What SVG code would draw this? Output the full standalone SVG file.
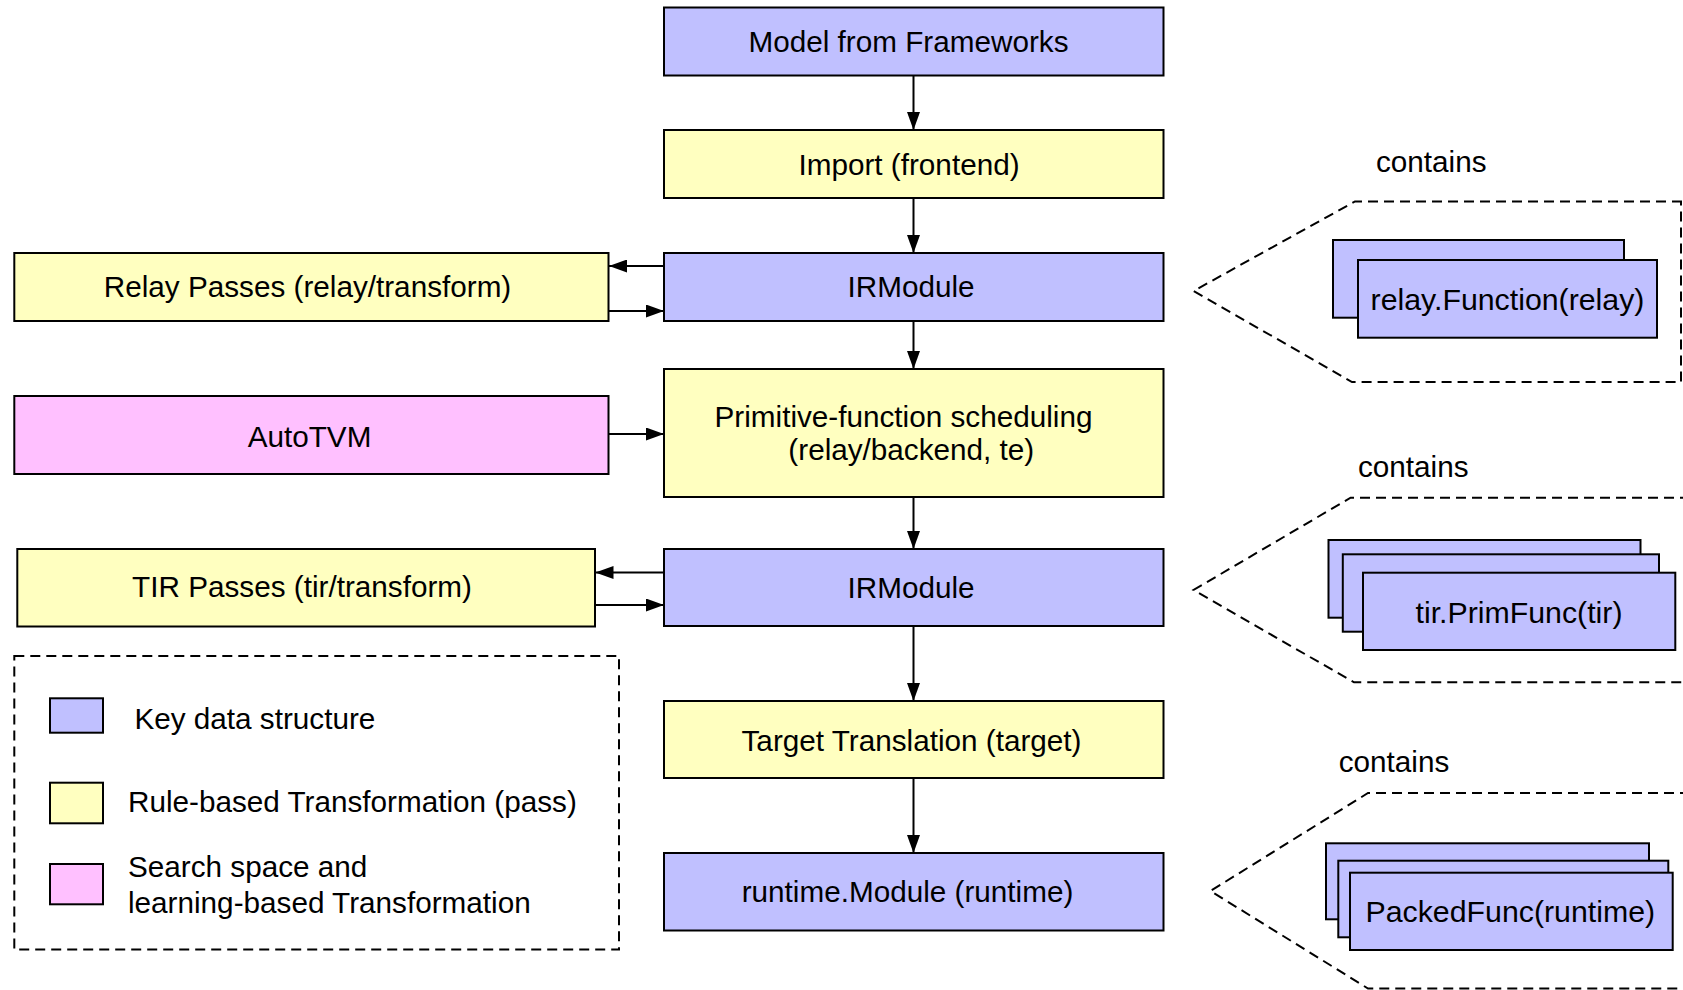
<svg xmlns="http://www.w3.org/2000/svg" width="1683" height="990" viewBox="0 0 1683 990">
<style>
  text { font-family: "Liberation Sans", Arial, sans-serif; font-size: 29.7px; fill: #000; }
  .c { text-anchor: middle; }
  .r { font-size: 30.3px; }
  .box { stroke: #000; stroke-width: 2; }
  .blue { fill: #C0C0FF; }
  .yellow { fill: #FFFFC0; }
  .pink { fill: #FFC0FF; }
  .dash { fill: none; stroke: #000; stroke-width: 2; stroke-dasharray: 10 6; }
  .conn { fill: none; stroke: #000; stroke-width: 2; }
</style>
<defs>
  <marker id="arrow" markerUnits="userSpaceOnUse" markerWidth="18" markerHeight="13" refX="18" refY="6.5" orient="auto">
    <path d="M0,0 L18,6.5 L0,13 z" fill="#000"/>
  </marker>
</defs>
<rect width="1683" height="990" fill="#fff"/>

<g id="connectors">
  <line class="conn" x1="913.5" y1="76" x2="913.5" y2="130" marker-end="url(#arrow)"/>
  <line class="conn" x1="913.5" y1="198" x2="913.5" y2="253" marker-end="url(#arrow)"/>
  <line class="conn" x1="913.5" y1="321" x2="913.5" y2="369" marker-end="url(#arrow)"/>
  <line class="conn" x1="913.5" y1="497" x2="913.5" y2="549" marker-end="url(#arrow)"/>
  <line class="conn" x1="913.5" y1="626" x2="913.5" y2="701" marker-end="url(#arrow)"/>
  <line class="conn" x1="913.5" y1="778" x2="913.5" y2="853" marker-end="url(#arrow)"/>
  <line class="conn" x1="664" y1="266" x2="609" y2="266" marker-end="url(#arrow)"/>
  <line class="conn" x1="608.5" y1="311" x2="664" y2="311" marker-end="url(#arrow)"/>
  <line class="conn" x1="608.5" y1="434" x2="664" y2="434" marker-end="url(#arrow)"/>
  <line class="conn" x1="664" y1="572.5" x2="595.5" y2="572.5" marker-end="url(#arrow)"/>
  <line class="conn" x1="595" y1="605" x2="664" y2="605" marker-end="url(#arrow)"/>
</g>

<g id="model">
  <rect class="box blue" x="664" y="7.5" width="499.5" height="68"/>
  <text class="c" x="908.5" y="51.7">Model from Frameworks</text>
</g>
<g id="import">
  <rect class="box yellow" x="664" y="130" width="499.5" height="68"/>
  <text class="c" x="909" y="175">Import (frontend)</text>
</g>
<g id="irmodule1">
  <rect class="box blue" x="664" y="253" width="499.5" height="68"/>
  <text class="c" x="911" y="296.7">IRModule</text>
</g>
<g id="relay-passes">
  <rect class="box yellow" x="14.3" y="253" width="594.2" height="68"/>
  <text class="c" x="307.5" y="296.7">Relay Passes (relay/transform)</text>
</g>
<g id="autotvm">
  <rect class="box pink" x="14.3" y="396" width="594.2" height="78"/>
  <text class="c" x="309.5" y="446.7">AutoTVM</text>
</g>
<g id="primitive">
  <rect class="box yellow" x="664" y="369" width="499.5" height="128"/>
  <text class="c" x="903.5" y="426.7">Primitive-function scheduling</text>
  <text class="c" x="911.3" y="460">(relay/backend, te)</text>
</g>
<g id="irmodule2">
  <rect class="box blue" x="664" y="549" width="499.5" height="77"/>
  <text class="c" x="911" y="598.3">IRModule</text>
</g>
<g id="tir-passes">
  <rect class="box yellow" x="17.3" y="549" width="577.7" height="77.5"/>
  <text class="c" x="302" y="596.7">TIR Passes (tir/transform)</text>
</g>
<g id="target">
  <rect class="box yellow" x="664" y="701" width="499.5" height="77"/>
  <text class="c" x="911.5" y="750.7">Target Translation (target)</text>
</g>
<g id="runtime">
  <rect class="box blue" x="664" y="853" width="499.5" height="77.5"/>
  <text class="c" x="907.5" y="901.7">runtime.Module (runtime)</text>
</g>

<g id="contains-relay">
  <text x="1376" y="171.7">contains</text>
  <path class="dash" d="M1682,201.5 L1355,201.5 L1193.5,291 L1352,382 L1681,382 L1681,201.5"/>
  <rect class="box blue" x="1333" y="240" width="291" height="77.7"/>
  <rect class="box blue" x="1358" y="260" width="299" height="77.7"/>
  <text class="c r" x="1507.5" y="309.5">relay.Function(relay)</text>
</g>
<g id="contains-tir">
  <text x="1358" y="476.7">contains</text>
  <path class="dash" d="M1690,497.7 L1350.6,497.7 L1193.5,590 L1354,682.3 L1690,682.3"/>
  <rect class="box blue" x="1328.5" y="540" width="312" height="77.7"/>
  <rect class="box blue" x="1342.8" y="554.3" width="316.2" height="77.4"/>
  <rect class="box blue" x="1363" y="572.7" width="312.3" height="77.3"/>
  <text class="c r" x="1519" y="623">tir.PrimFunc(tir)</text>
</g>
<g id="contains-packed">
  <text x="1338.7" y="771.7">contains</text>
  <path class="dash" d="M1690,793 L1368,793 L1210.5,891 L1368,988.5 L1690,988.5"/>
  <rect class="box blue" x="1326" y="843.3" width="323" height="76"/>
  <rect class="box blue" x="1338.3" y="860.7" width="330" height="76.6"/>
  <rect class="box blue" x="1350" y="872.7" width="322.7" height="77.3"/>
  <text class="c r" x="1510.3" y="922">PackedFunc(runtime)</text>
</g>

<g id="legend">
  <rect class="dash" x="14.3" y="656" width="604.7" height="293.5"/>
  <rect class="box blue" x="50" y="698.3" width="53" height="34.4"/>
  <text x="134.4" y="729.3">Key data structure</text>
  <rect class="box yellow" x="50" y="782.7" width="53" height="40.6"/>
  <text x="128" y="811.7">Rule-based Transformation (pass)</text>
  <rect class="box pink" x="50" y="864" width="53" height="40.3"/>
  <text x="128" y="877.3">Search space and</text>
  <text x="128" y="912.7">learning-based Transformation</text>
</g>
</svg>
